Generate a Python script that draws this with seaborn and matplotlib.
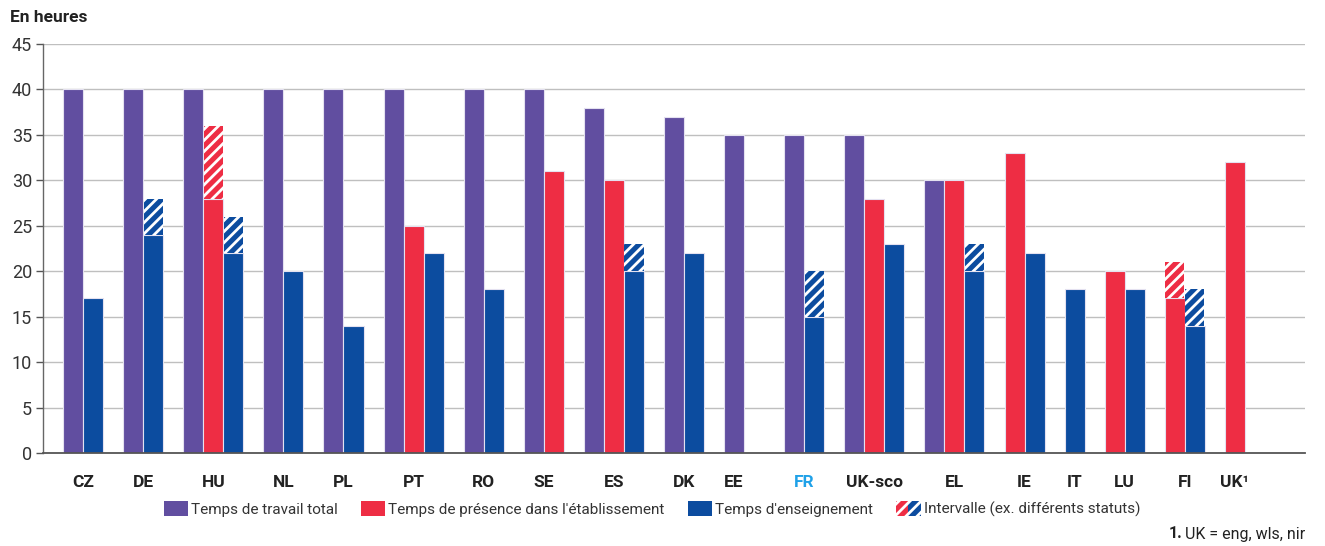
import pandas as pd
import matplotlib
matplotlib.use("Agg")
import matplotlib.pyplot as plt
import seaborn as sns
from matplotlib.patches import Patch
from matplotlib.legend_handler import HandlerTuple


countries = ["CZ", "DE", "HU", "NL", "PL", "PT", "RO", "SE", "ES", "DK",
             "EE", "FR", "UK-sco", "EL", "IE", "IT", "LU", "FI", "UK¹"]

# heures par semaine (None = pas de donnée)
total = [40, 40, 40, 40, 40, 40, 40, 40, 38, 37,
         35, 35, 35, 30, None, None, None, None, None]
presence = [None, None, 28, None, None, 25, None, 31, 30, None,
            None, None, 28, 30, 33, None, 20, 17, 32]
presence_max = [None, None, 36, None, None, None, None, None, None, None,
                None, None, None, None, None, None, None, 21, None]
teaching = [17, 24, 22, 20, 14, 22, 18, None, 20, 22,
            None, 15, 23, 20, 22, 18, 18, 14, None]
teaching_max = [None, 28, 26, None, None, None, None, None, 23, None,
                None, 20, None, 23, None, None, None, 18, None]

series_names = ["Temps de travail total",
                "Temps de présence dans l'établissement",
                "Temps d'enseignement"]
interval_label = "Intervalle (ex. différents statuts)"

colors = {series_names[0]: "#614ea0",
          series_names[1]: "#ee2d44",
          series_names[2]: "#0c4c9f"}

extra_gap = {"EE": 1}

sns.set_theme(style="white")
plt.rcParams["font.family"] = ["Roboto", "DejaVu Sans"]
plt.rcParams["hatch.linewidth"] = 2.0

# positions des barres : chaque groupe occupe autant de cases que de barres
rows = []
intervals = []
centers = []
pos = 1
for i, c in enumerate(countries):
    start = pos
    for name, vals, vmax in [(series_names[0], total, None),
                             (series_names[1], presence, presence_max),
                             (series_names[2], teaching, teaching_max)]:
        if vals[i] is None:
            continue
        rows.append({"pos": pos + 0.5, "value": vals[i], "serie": name})
        if vmax is not None and vmax[i] is not None:
            intervals.append((pos + 0.5, vals[i], vmax[i] - vals[i], colors[name]))
        pos += 1
    centers.append((start + pos) / 2)
    pos += 1 + extra_gap.get(c, 0)

df = pd.DataFrame(rows)

fig = plt.figure(figsize=(13.25, 5.46), dpi=100)
ax = fig.add_axes([43 / 1325, 1 - 453 / 546, (1305 - 43) / 1325, (453 - 44) / 546])

sns.barplot(data=df, x="pos", y="value", hue="serie", hue_order=series_names,
            palette=colors, saturation=1, native_scale=True, dodge=False,
            width=1, errorbar=None, legend=False, edgecolor="#e4e1f0",
            linewidth=0.8, ax=ax)

for x, bottom, height, col in intervals:
    ax.bar(x, height, bottom=bottom, width=0.96, color=col, edgecolor="white",
           hatch="///", linewidth=0)

ax.set_xlim(0, 63)
ax.set_ylim(0, 45)
ax.set_yticks(range(0, 46, 5))
ax.set_xticks(centers)
ax.set_xticklabels(countries, fontweight="bold", fontsize=12.5)
ax.tick_params(axis="x", length=0, pad=16)
ax.tick_params(axis="y", length=5, width=1, color="#555555", labelsize=13,
               labelcolor="#333333", pad=3, direction="out", left=True)
for lab in ax.get_xticklabels():
    if lab.get_text() == "FR":
        lab.set_color("#1fa1e8")
    else:
        lab.set_color("#222222")

ax.set_xlabel("")
ax.set_ylabel("")
ax.grid(axis="y", color="#bfbfbf", linewidth=1)
ax.set_axisbelow(True)
for s in ["top", "right"]:
    ax.spines[s].set_visible(False)
ax.spines["left"].set_color("#666666")
ax.spines["bottom"].set_color("#555555")
ax.spines["left"].set_linewidth(1)
ax.spines["bottom"].set_linewidth(1.3)

fig.text(10 / 1325, 1 - 17 / 546, "En heures", fontsize=12.5, fontweight="bold",
         color="#222222", va="center", ha="left")

handles = [Patch(facecolor=colors[n], edgecolor="none") for n in series_names]
handles.append((Patch(facecolor=colors[series_names[1]], edgecolor="white", hatch="///", linewidth=0),
                Patch(facecolor=colors[series_names[2]], edgecolor="white", hatch="///", linewidth=0)))
fig.legend(handles, series_names + [interval_label],
           handler_map={tuple: HandlerTuple(ndivide=None, pad=0)},
           loc="center", bbox_to_anchor=(652 / 1325, 1 - 509 / 546), ncol=4,
           frameon=False, fontsize=11, handlelength=1.6, handleheight=1.1,
           handletextpad=0.2, columnspacing=1.5, labelcolor="#333333")

fig.text(1305 / 1325, 1 - 534 / 546, "UK = eng, wls, nir",
         fontsize=11.5, ha="right", va="center", color="#222222")
fig.text(1182 / 1325, 1 - 534 / 546, "1.", fontsize=11.5, fontweight="bold",
         ha="right", va="center", color="#222222")

plt.savefig("out.png", dpi=100)
